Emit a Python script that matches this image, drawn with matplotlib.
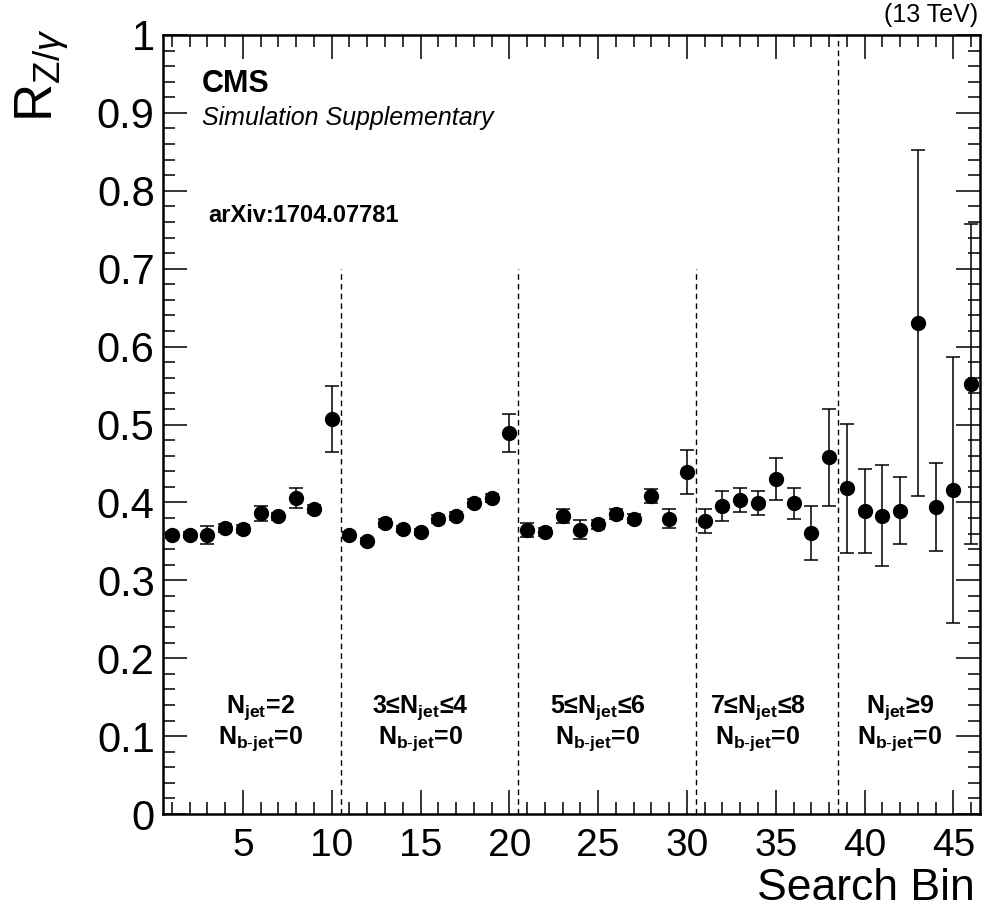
import numpy as np
import matplotlib
matplotlib.use("Agg")
import matplotlib.pyplot as plt
from matplotlib.ticker import MultipleLocator, FixedLocator

plt.rcParams['font.family'] = ['Liberation Sans', 'DejaVu Sans']
plt.rcParams['mathtext.fontset'] = 'custom'
plt.rcParams['mathtext.rm'] = 'Liberation Sans'
plt.rcParams['mathtext.it'] = 'Liberation Sans:italic'
plt.rcParams['mathtext.bf'] = 'Liberation Sans:bold'

# R(Z/gamma) per search bin, with MC stat. uncertainties
search_bin = np.arange(1, 47)
r_zgamma = [0.358, 0.358, 0.358, 0.367, 0.366, 0.386, 0.382, 0.406, 0.392, 0.507,
            0.358, 0.350, 0.374, 0.366, 0.362, 0.379, 0.383, 0.399, 0.406, 0.489,
            0.364, 0.362, 0.383, 0.365, 0.372, 0.385, 0.379, 0.408, 0.379, 0.439,
            0.376, 0.395, 0.403, 0.399, 0.430, 0.399, 0.361, 0.458,
            0.418, 0.389, 0.383, 0.389, 0.630, 0.394, 0.416, 0.552]
r_err = [0.004, 0.004, 0.012, 0.005, 0.005, 0.010, 0.005, 0.013, 0.005, 0.042,
         0.004, 0.004, 0.005, 0.004, 0.004, 0.005, 0.005, 0.005, 0.005, 0.024,
         0.009, 0.005, 0.009, 0.012, 0.006, 0.006, 0.006, 0.009, 0.012, 0.028,
         0.015, 0.019, 0.015, 0.015, 0.027, 0.020, 0.035, 0.062,
         0.083, 0.054, 0.065, 0.043, 0.222, 0.056, 0.171, 0.206]

# jet multiplicity regions
region_edges = [10.5, 20.5, 30.5, 38.5]
region_line_top = [0.7, 0.7, 0.7, 1.0]
region_centers = [6.0, 15.0, 25.0, 34.0, 42.0]
njet_labels = [r'N$_{\mathbf{jet}}$=2', r'3≤N$_{\mathbf{jet}}$≤4',
               r'5≤N$_{\mathbf{jet}}$≤6', r'7≤N$_{\mathbf{jet}}$≤8',
               r'N$_{\mathbf{jet}}$≥9']
nb_label = r'N$_{\mathbf{b\text{-}jet}}$=0'

fig = plt.figure(figsize=(9.86, 9.24), dpi=100)
ax = fig.add_axes([163 / 986, 110 / 924, 817 / 986, 779 / 924])

ax.errorbar(search_bin, r_zgamma, yerr=r_err, fmt='o', color='black',
            markersize=10, elinewidth=1.1, capsize=5, capthick=1.1)

for edge, top in zip(region_edges, region_line_top):
    ax.plot([edge, edge], [0, top], color='black', lw=1, ls=(0, (4, 3)))

for xc, lab in zip(region_centers, njet_labels):
    ax.text(xc, 0.1297, lab, ha='center', va='baseline', fontsize=18,
            fontweight='bold')
    ax.text(xc, 0.0899, nb_label, ha='center', va='baseline', fontsize=18,
            fontweight='bold')

ax.set_xlim(0.5, 46.5)
ax.set_ylim(0, 1)
ax.xaxis.set_major_locator(FixedLocator([5, 10, 15, 20, 25, 30, 35, 40, 45]))
ax.xaxis.set_minor_locator(MultipleLocator(1))
ax.yaxis.set_minor_locator(MultipleLocator(0.02))
ax.set_yticks(np.arange(0, 1.01, 0.1))
ax.set_yticklabels(['0', '0.1', '0.2', '0.3', '0.4', '0.5', '0.6', '0.7', '0.8', '0.9', '1'])

ax.tick_params(which='both', direction='in', top=True, right=True, width=1.1)
ax.tick_params(which='major', length=17)
ax.tick_params(which='minor', length=8.5)
ax.tick_params(axis='y', labelsize=30, pad=6)
ax.tick_params(axis='x', labelsize=28, pad=10)
for sp in ax.spines.values():
    sp.set_linewidth(1.8)

ax.text(0.0477, 0.927, 'CMS', transform=ax.transAxes, fontsize=22,
        fontweight='bold', va='baseline')
ax.text(0.0477, 0.8845, 'Simulation Supplementary', transform=ax.transAxes,
        fontsize=18, style='italic', va='baseline')
ax.text(0.055, 0.76, 'arXiv:1704.07781', transform=ax.transAxes, fontsize=17,
        fontweight='bold', va='baseline')

fig.text(978 / 986, 1 - 22 / 924, '(13 TeV)', ha='right', va='baseline', fontsize=18)
fig.text(975 / 986, 1 - 900 / 924, 'Search Bin', ha='right', va='baseline',
         fontsize=32)
fig.text(13 / 986, 1 - 28 / 924, r'R$_{\mathrm{Z/}\gamma}$', rotation=90,
         ha='left', va='top', fontsize=38)

fig.savefig('out.png', dpi=100)
